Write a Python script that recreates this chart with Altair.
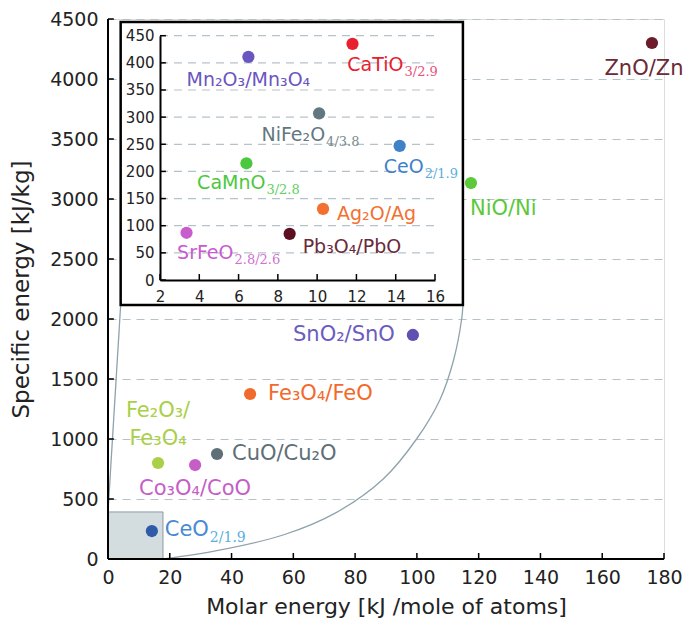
import altair as alt
import pandas as pd

# ---------------- data ----------------
main_names = ["ZnO", "NiO", "SnO2", "Fe3O4", "CuO", "Co3O4", "Fe2O3", "CeO2"]
main_labels = ["ZnO/Zn", "NiO/Ni", "SnO₂/SnO", "Fe₃O₄/FeO", "CuO/Cu₂O", "Co₃O₄/CoO", "Fe₂O₃/\nFe₃O₄", "CeO"]
main_subs = ["", "", "", "", "", "", "", "2/1.9"]
main_x = [176.1, 117.5, 98.7, 46.0, 35.3, 28.2, 16.2, 14.2]
main_y = [4300, 3133, 1867, 1375, 875, 783, 800, 233]

inset_names = ["Mn2O3", "CaTiO3", "NiFe2O4", "CeO2i", "CaMnO3", "Ag2O", "SrFeO", "Pb3O4"]
inset_labels = ["Mn₂O₃/Mn₃O₄", "CaTiO", "NiFe₂O", "CeO", "CaMnO", "Ag₂O/Ag", "SrFeO", "Pb₃O₄/PbO"]
inset_subs = ["", "3/2.9", "4/3.8", "2/1.9", "3/2.8", "", "2.8/2.6", ""]
inset_x = [6.5, 11.8, 10.1, 14.2, 6.4, 10.3, 3.35, 8.6]
inset_y = [411, 435, 307, 247, 215, 131, 87, 85]

main_x_ticks = [0, 20, 40, 60, 80, 100, 120, 140, 160, 180]
main_y_ticks = [0, 500, 1000, 1500, 2000, 2500, 3000, 3500, 4000, 4500]
inset_x_ticks = [2, 4, 6, 8, 10, 12, 14, 16]
inset_y_ticks = [0, 50, 100, 150, 200, 250, 300, 350, 400, 450]

# zoom box (main coords) and inset frame (main coords)
zoom_box = [0, 17.8, 0, 392]
inset_frame = [4.1, 114.9, 2117, 4475]
# connector: left straight line and right curve (main coords)
left_line_x = [0, 4.1]
left_line_y = [392, 2117]
curve_x = [17.9, 35.2, 56.7, 74.0, 89.1, 99.9, 107.5, 111.8, 114.5, 114.9]
curve_y = [0, 69, 200, 389, 667, 1000, 1330, 1650, 2000, 2117]

# ---------------- styles ----------------
main_point_colors = ["#6b1b2a", "#5cc83a", "#5f50b2", "#f26a2b", "#5f6f77", "#c55fc7", "#a9d046", "#2f5aa8"]
main_label_colors = ["#6b2a35", "#5cc83a", "#6a5cc0", "#f26a2b", "#5f6f77", "#c55fc7", "#a9d046", "#4a8ad0"]
main_sub_colors = ["", "", "", "", "", "", "", "#5aaee0"]
main_place = [("center", -8, 26), ("left", -1, 26), ("right", -18, 0), ("left", 18, 0),
              ("left", 15, 0), ("center", 0, 24), ("center", 0, -52), ("right", 57, -1)]

inset_point_colors = ["#6b55c0", "#e8202e", "#627880", "#3f82c8", "#4cc83e", "#f27030", "#c85ccd", "#5a1020"]
inset_label_colors = ["#6b55c0", "#e8202e", "#627880", "#3f82c8", "#4cc83e", "#f27030", "#c85ccd", "#6a2a3a"]
inset_sub_colors = ["", "#e8507a", "#7a8a90", "#5aaee0", "#60d060", "", "#d070d0", ""]
inset_place = [("center", 0, 23), ("right", 51, 21), ("right", 6, 22), ("right", 24, 21),
               ("right", 19, 20), ("left", 14, 5), ("right", 47, 20), ("left", 13, 13)]

FONT = "DejaVu Sans"
SUBFONT = "DejaVu Serif"
TXT = "#222222"
GRID = "#b5c2ca"

W, H = 556, 540
inset_x_range = [52, 327]
inset_y_range = [261, 16.7]

# ---------------- scales / axes ----------------
mx_scale = alt.Scale(domain=[0, 180], nice=False, zero=False)
my_scale = alt.Scale(domain=[0, 4500], nice=False, zero=False)
ix_scale = alt.Scale(domain=[2, 16], range=inset_x_range, nice=False, zero=False)
iy_scale = alt.Scale(domain=[0, 450], range=inset_y_range, nice=False, zero=False)

mx_axis = alt.Axis(title="Molar energy [kJ /mole of atoms]", values=main_x_ticks, format="d", grid=False,
                   domain=False, ticks=False, labelFont=FONT, labelFontSize=19, labelColor=TXT,
                   labelPadding=9, labelFlush=False, titleFont=FONT, titleFontSize=22,
                   titleFontWeight="normal", titleColor=TXT, titlePadding=9)
my_axis = alt.Axis(title="Specific energy [kJ/kg]", values=main_y_ticks, format="d", grid=True,
                   gridDash=[8, 6], gridColor=GRID, gridWidth=1.2, domain=False, ticks=False,
                   labelFont=FONT, labelFontSize=19, labelColor=TXT, labelPadding=10,
                   labelFlush=False, titleFont=FONT, titleFontSize=23, titleFontWeight="normal",
                   titleColor=TXT, titlePadding=16)
ix_axis = alt.Axis(title=None, values=inset_x_ticks, orient="bottom", offset=-(H - inset_y_range[0]),
                   grid=False, domain=True, domainColor="black", domainWidth=2, ticks=False,
                   labelFont=FONT, labelFontSize=15, labelColor=TXT, labelPadding=9,
                   labelFlush=False, zindex=1)
iy_axis = alt.Axis(title=None, values=inset_y_ticks, orient="left", offset=-inset_x_range[0],
                   grid=False, domain=True, domainColor="black", domainWidth=2, ticks=False,
                   labelFont=FONT, labelFontSize=15, labelColor=TXT, labelPadding=6,
                   labelFlush=False, zindex=1)


def MX(f):
    return alt.X(f, type="quantitative", scale=mx_scale, axis=mx_axis)


def MY(f):
    return alt.Y(f, type="quantitative", scale=my_scale, axis=my_axis)


def IX(f):
    return alt.X(f, type="quantitative", scale=ix_scale, axis=ix_axis)


def IY(f):
    return alt.Y(f, type="quantitative", scale=iy_scale, axis=iy_axis)


# ---------------- tables ----------------
main_df = pd.DataFrame({"name": main_names, "label": main_labels, "sub": main_subs,
                        "x": main_x, "y": main_y, "color": main_point_colors})
inset_df = pd.DataFrame({"name": inset_names, "label": inset_labels, "sub": inset_subs,
                         "x": inset_x, "y": inset_y, "color": inset_point_colors})

zoom_df = pd.DataFrame({"x": [zoom_box[0]], "x2": [zoom_box[1]], "y": [zoom_box[2]], "y2": [zoom_box[3]]})
frame_df = pd.DataFrame({"x": [inset_frame[0]], "x2": [inset_frame[1]],
                         "y": [inset_frame[2]], "y2": [inset_frame[3]]})
left_df = pd.DataFrame({"x": left_line_x, "y": left_line_y, "i": range(len(left_line_x))})
curve_df = pd.DataFrame({"x": curve_x, "y": curve_y, "i": range(len(curve_x))})
main_dom_df = pd.DataFrame({"x": [0, 0], "x2": [180, 0], "y": [0, 0], "y2": [0, 4500]})
mytick_df = pd.DataFrame({"y": main_y_ticks, "x": 0, "x2": 1.9})
mxtick_df = pd.DataFrame({"x": main_x_ticks, "y": 0, "y2": 50})
iytick_df = pd.DataFrame({"y": inset_y_ticks, "x": 2, "x2": 2.3})
ixtick_df = pd.DataFrame({"x": inset_x_ticks, "y": 0, "y2": 11})
igrid_df = pd.DataFrame({"y": inset_y_ticks[1:], "x": 2, "x2": 16})

# ---------------- main layer ----------------
main_layers = []
main_layers.append(alt.Chart(zoom_df).mark_rect(fill="#d3dcdf", stroke="#8a9ca3", strokeWidth=1)
                   .encode(x=MX("x"), x2="x2", y=MY("y"), y2="y2"))
main_layers.append(alt.Chart(left_df).mark_line(color="#8fa3ab", strokeWidth=1.3)
                   .encode(x=MX("x"), y=MY("y"), order="i:Q"))
main_layers.append(alt.Chart(curve_df).mark_line(color="#8fa3ab", strokeWidth=1.3, interpolate="catmull-rom")
                   .encode(x=MX("x"), y=MY("y"), order="i:Q"))
main_layers.append(alt.Chart(main_dom_df).mark_rule(color="black", strokeWidth=2)
                   .encode(x=MX("x"), x2="x2", y=MY("y"), y2="y2"))
main_layers.append(alt.Chart(mytick_df).mark_rule(color="black", strokeWidth=1.5)
                   .encode(x=MX("x"), x2="x2", y=MY("y")))
main_layers.append(alt.Chart(mxtick_df).mark_rule(color="black", strokeWidth=1.5)
                   .encode(x=MX("x"), y=MY("y"), y2="y2"))
main_layers.append(alt.Chart(main_df).mark_circle(size=150, opacity=1)
                   .encode(x=MX("x"), y=MY("y"), color=alt.Color("color:N", scale=None)))
for i, n in enumerate(main_names):
    al, dx, dy = main_place[i]
    main_layers.append(
        alt.Chart(main_df).transform_filter(alt.datum.name == n)
        .mark_text(align=al, baseline="middle", dx=dx, dy=dy, font=FONT, fontSize=21,
                   color=main_label_colors[i], lineBreak="\n", lineHeight=28)
        .encode(x=MX("x"), y=MY("y"), text="label:N"))
    if main_subs[i]:
        main_layers.append(
            alt.Chart(main_df).transform_filter(alt.datum.name == n)
            .mark_text(align="left", baseline="middle", dx=dx + 1, dy=dy + 8, font=SUBFONT,
                       fontSize=14, color=main_sub_colors[i])
            .encode(x=MX("x"), y=MY("y"), text="sub:N"))
main_layers.append(alt.Chart(frame_df).mark_rect(fill="white", stroke="black", strokeWidth=2.5)
                   .encode(x=MX("x"), x2="x2", y=MY("y"), y2="y2"))
main = alt.layer(*main_layers)

# ---------------- inset layer ----------------
inset_layers = []
inset_layers.append(alt.Chart(igrid_df).mark_rule(color=GRID, strokeWidth=1.2, strokeDash=[8, 6])
                    .encode(x=IX("x"), x2="x2", y=IY("y")))
inset_layers.append(alt.Chart(iytick_df).mark_rule(color="black", strokeWidth=1.5)
                    .encode(x=IX("x"), x2="x2", y=IY("y")))
inset_layers.append(alt.Chart(ixtick_df).mark_rule(color="black", strokeWidth=1.5)
                    .encode(x=IX("x"), y=IY("y"), y2="y2"))
inset_layers.append(alt.Chart(inset_df).mark_circle(size=150, opacity=1)
                    .encode(x=IX("x"), y=IY("y"), color=alt.Color("color:N", scale=None)))
for i, n in enumerate(inset_names):
    al, dx, dy = inset_place[i]
    inset_layers.append(
        alt.Chart(inset_df).transform_filter(alt.datum.name == n)
        .mark_text(align=al, baseline="middle", dx=dx, dy=dy, font=FONT, fontSize=19,
                   color=inset_label_colors[i])
        .encode(x=IX("x"), y=IY("y"), text="label:N"))
    if inset_subs[i]:
        inset_layers.append(
            alt.Chart(inset_df).transform_filter(alt.datum.name == n)
            .mark_text(align="left", baseline="middle", dx=dx + 1, dy=dy + 7, font=SUBFONT,
                       fontSize=13, color=inset_sub_colors[i])
            .encode(x=IX("x"), y=IY("y"), text="sub:N"))
inset = alt.layer(*inset_layers)

chart = (
    alt.layer(main, inset)
    .resolve_scale(x="independent", y="independent")
    .properties(width=W, height=H,
                autosize=alt.AutoSizeParams(type="none"),
                padding={"left": 100, "top": 11, "right": 20, "bottom": 61})
    .configure_view(stroke=None)
    .configure(background="white")
)

chart.save("out.html", embed_options={"renderer": "svg", "actions": False})
